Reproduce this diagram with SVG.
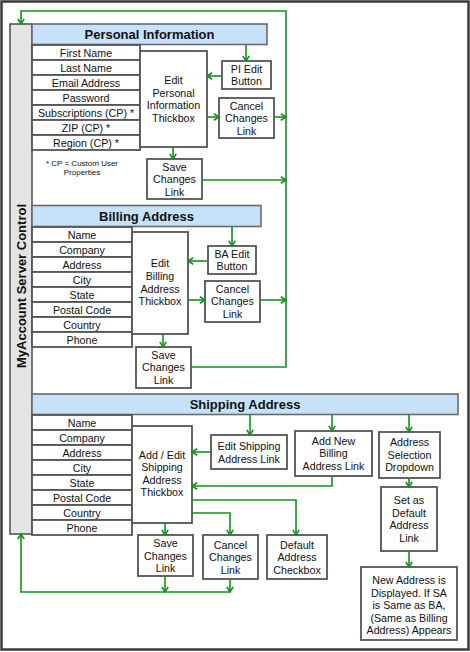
<svg xmlns="http://www.w3.org/2000/svg" width="470" height="652" viewBox="0 0 470 652">
<style>
  text { font-family: "Liberation Sans", Arial, sans-serif; fill: #111; }
  .t { font-size: 10.7px; text-anchor: middle; }
  .h { font-size: 13px; font-weight: bold; text-anchor: middle; }
  .n { font-size: 8px; text-anchor: middle; }
  .box { fill: #fff; stroke: #555; stroke-width: 1.8; }
  .hdr { fill: #c6e1fa; stroke: #6a6a6a; stroke-width: 1.6; }
  .bar { fill: #e4e4e4; stroke: #555; stroke-width: 1.6; }
  .c { fill: none; stroke: #13921b; stroke-width: 1.6; }
  .a { marker-end: url(#arr); }
</style>
<defs>
  <marker id="arr" markerUnits="userSpaceOnUse" markerWidth="8" markerHeight="8" viewBox="0 0 8 8" refX="6.2" refY="4" orient="auto">
    <path d="M1,0.8 L6.2,4 L1,7.2" fill="none" stroke="#13921b" stroke-width="1.6"/>
  </marker>
</defs>

<rect id="frame" x="1.5" y="1.5" width="467" height="648" fill="#fff" stroke="#3a3a3a" stroke-width="2.5"/>

<g id="server-control">
  <rect class="bar" x="10" y="24" width="22" height="510"/>
  <text class="h" transform="translate(25.5,286) rotate(-90)">MyAccount Server Control</text>
</g>

<!-- Personal Information -->
<g id="pi-header">
  <rect class="hdr" x="32" y="24" width="235" height="20.5"/>
  <text class="h" x="149.5" y="38.5">Personal Information</text>
</g>
<g id="pi-fields">
  <rect class="box" x="32" y="45" width="108" height="15"/><text class="t" x="86" y="56.5">First Name</text>
  <rect class="box" x="32" y="60" width="108" height="15"/><text class="t" x="86" y="71.5">Last Name</text>
  <rect class="box" x="32" y="75" width="108" height="15"/><text class="t" x="86" y="86.5">Email Address</text>
  <rect class="box" x="32" y="90" width="108" height="15"/><text class="t" x="86" y="101.5">Password</text>
  <rect class="box" x="32" y="105" width="108" height="15"/><text class="t" x="86" y="116.5">Subscriptions (CP) *</text>
  <rect class="box" x="32" y="120" width="108" height="15"/><text class="t" x="86" y="131.5">ZIP (CP) *</text>
  <rect class="box" x="32" y="135" width="108" height="15"/><text class="t" x="86" y="146.5">Region (CP) *</text>
</g>
<g id="pi-note">
  <text class="n" x="82" y="165.5">* CP = Custom User</text>
  <text class="n" x="82" y="175">Properties</text>
</g>
<g id="pi-thickbox">
  <rect class="box" x="140" y="51" width="67" height="96"/>
  <text class="t" x="173.5" y="84">Edit</text>
  <text class="t" x="173.5" y="96.5">Personal</text>
  <text class="t" x="173.5" y="109">Information</text>
  <text class="t" x="173.5" y="121.5">Thickbox</text>
</g>
<g id="pi-edit-button">
  <rect class="box" x="222" y="61" width="49" height="28"/>
  <text class="t" x="246.5" y="72.5">PI Edit</text>
  <text class="t" x="246.5" y="85">Button</text>
</g>
<g id="pi-cancel">
  <rect class="box" x="219" y="98" width="55" height="40"/>
  <text class="t" x="246.5" y="109.5">Cancel</text>
  <text class="t" x="246.5" y="122">Changes</text>
  <text class="t" x="246.5" y="134.5">Link</text>
</g>
<g id="pi-save">
  <rect class="box" x="147" y="159" width="55" height="40"/>
  <text class="t" x="174.5" y="170.5">Save</text>
  <text class="t" x="174.5" y="183">Changes</text>
  <text class="t" x="174.5" y="195.5">Link</text>
</g>

<!-- Billing Address -->
<g id="ba-header">
  <rect class="hdr" x="32" y="205.5" width="229" height="21"/>
  <text class="h" x="146.5" y="220.5">Billing Address</text>
</g>
<g id="ba-fields">
  <rect class="box" x="32" y="227" width="100" height="15"/><text class="t" x="82" y="238.5">Name</text>
  <rect class="box" x="32" y="242" width="100" height="15"/><text class="t" x="82" y="253.5">Company</text>
  <rect class="box" x="32" y="257" width="100" height="15"/><text class="t" x="82" y="268.5">Address</text>
  <rect class="box" x="32" y="272" width="100" height="15"/><text class="t" x="82" y="283.5">City</text>
  <rect class="box" x="32" y="287" width="100" height="15"/><text class="t" x="82" y="298.5">State</text>
  <rect class="box" x="32" y="302" width="100" height="15"/><text class="t" x="82" y="313.5">Postal Code</text>
  <rect class="box" x="32" y="317" width="100" height="15"/><text class="t" x="82" y="328.5">Country</text>
  <rect class="box" x="32" y="332" width="100" height="15"/><text class="t" x="82" y="343.5">Phone</text>
</g>
<g id="ba-thickbox">
  <rect class="box" x="132" y="232" width="56" height="102"/>
  <text class="t" x="160" y="267">Edit</text>
  <text class="t" x="160" y="280">Billing</text>
  <text class="t" x="160" y="292.5">Address</text>
  <text class="t" x="160" y="305">Thickbox</text>
</g>
<g id="ba-edit-button">
  <rect class="box" x="208" y="246" width="48" height="28"/>
  <text class="t" x="232" y="257.5">BA Edit</text>
  <text class="t" x="232" y="270">Button</text>
</g>
<g id="ba-cancel">
  <rect class="box" x="205" y="281" width="55" height="41"/>
  <text class="t" x="232.5" y="292.5">Cancel</text>
  <text class="t" x="232.5" y="305">Changes</text>
  <text class="t" x="232.5" y="317.5">Link</text>
</g>
<g id="ba-save">
  <rect class="box" x="136" y="347" width="55" height="41"/>
  <text class="t" x="163.5" y="358.5">Save</text>
  <text class="t" x="163.5" y="371">Changes</text>
  <text class="t" x="163.5" y="383.5">Link</text>
</g>

<!-- Shipping Address -->
<g id="sa-header">
  <rect class="hdr" x="32" y="394" width="426" height="20.5"/>
  <text class="h" x="245" y="408.5">Shipping Address</text>
</g>
<g id="sa-fields">
  <rect class="box" x="32" y="415" width="100" height="15"/><text class="t" x="82" y="426.5">Name</text>
  <rect class="box" x="32" y="430" width="100" height="15"/><text class="t" x="82" y="441.5">Company</text>
  <rect class="box" x="32" y="445" width="100" height="15"/><text class="t" x="82" y="456.5">Address</text>
  <rect class="box" x="32" y="460" width="100" height="15"/><text class="t" x="82" y="471.5">City</text>
  <rect class="box" x="32" y="475" width="100" height="15"/><text class="t" x="82" y="486.5">State</text>
  <rect class="box" x="32" y="490" width="100" height="15"/><text class="t" x="82" y="501.5">Postal Code</text>
  <rect class="box" x="32" y="505" width="100" height="15"/><text class="t" x="82" y="516.5">Country</text>
  <rect class="box" x="32" y="520" width="100" height="15"/><text class="t" x="82" y="531.5">Phone</text>
</g>
<g id="sa-thickbox">
  <rect class="box" x="132" y="426" width="60" height="97"/>
  <text class="t" x="162" y="458.5">Add / Edit</text>
  <text class="t" x="162" y="471">Shipping</text>
  <text class="t" x="162" y="483.5">Address</text>
  <text class="t" x="162" y="496">Thickbox</text>
</g>
<g id="edit-shipping-link">
  <rect class="box" x="211" y="435" width="76" height="34"/>
  <text class="t" x="249" y="450">Edit Shipping</text>
  <text class="t" x="249" y="462.5">Address Link</text>
</g>
<g id="add-billing-link">
  <rect class="box" x="295" y="431" width="77" height="45"/>
  <text class="t" x="333.5" y="444.5">Add New</text>
  <text class="t" x="333.5" y="457">Billing</text>
  <text class="t" x="333.5" y="469.5">Address Link</text>
</g>
<g id="address-dropdown">
  <rect class="box" x="379" y="432" width="61" height="46"/>
  <text class="t" x="409.5" y="446">Address</text>
  <text class="t" x="409.5" y="458.5">Selection</text>
  <text class="t" x="409.5" y="471">Dropdown</text>
</g>
<g id="set-default-link">
  <rect class="box" x="381" y="487" width="56" height="64"/>
  <text class="t" x="409" y="504">Set as</text>
  <text class="t" x="409" y="516.5">Default</text>
  <text class="t" x="409" y="529">Address</text>
  <text class="t" x="409" y="541.5">Link</text>
</g>
<g id="new-address">
  <rect class="box" x="361" y="567" width="96" height="73"/>
  <text class="t" x="409" y="584">New Address is</text>
  <text class="t" x="409" y="596.5">Displayed. If SA</text>
  <text class="t" x="409" y="609">is Same as BA,</text>
  <text class="t" x="409" y="621.5">(Same as Billing</text>
  <text class="t" x="409" y="634">Address) Appears</text>
</g>
<g id="default-checkbox">
  <rect class="box" x="267" y="535" width="60" height="44"/>
  <text class="t" x="297" y="548.5">Default</text>
  <text class="t" x="297" y="561">Address</text>
  <text class="t" x="297" y="573.5">Checkbox</text>
</g>
<g id="sa-save">
  <rect class="box" x="138" y="535" width="55" height="41"/>
  <text class="t" x="165.5" y="547">Save</text>
  <text class="t" x="165.5" y="559.5">Changes</text>
  <text class="t" x="165.5" y="572">Link</text>
</g>
<g id="sa-cancel">
  <rect class="box" x="203" y="535" width="55" height="44"/>
  <text class="t" x="230.5" y="548.5">Cancel</text>
  <text class="t" x="230.5" y="561">Changes</text>
  <text class="t" x="230.5" y="573.5">Link</text>
</g>

<g id="connectors">
  <!-- personal information -->
  <path class="c a" d="M246,45 V61"/>
  <path class="c a" d="M222,76 H207"/>
  <path class="c a" d="M207,117 H219"/>
  <path class="c a" d="M274,117 H286"/>
  <path class="c a" d="M173,147 V159"/>
  <path class="c a" d="M202,180 H286"/>
  <!-- billing address -->
  <path class="c a" d="M232,226.5 V246"/>
  <path class="c a" d="M208,261 H188"/>
  <path class="c a" d="M188,300 H205"/>
  <path class="c a" d="M260,300 H286"/>
  <path class="c a" d="M163,334 V347"/>
  <path class="c a" d="M191,367 H286 V11 H21 V24"/>
  <!-- shipping address -->
  <path class="c a" d="M250,414.5 V435"/>
  <path class="c a" d="M211,452 H192"/>
  <path class="c a" d="M332,414.5 V431"/>
  <path class="c a" d="M332,476 V486 H192"/>
  <path class="c a" d="M409,414.5 V432"/>
  <path class="c a" d="M409,478 V487"/>
  <path class="c a" d="M409,551 V567"/>
  <path class="c a" d="M165,523 V535"/>
  <path class="c a" d="M192,513 H230 V535"/>
  <path class="c a" d="M192,500 H296 V535"/>
  <path class="c a" d="M165,576 V592"/>
  <path class="c a" d="M230,579 V592"/>
  <path class="c a" d="M230,592 H21 V534"/>
</g>
</svg>
